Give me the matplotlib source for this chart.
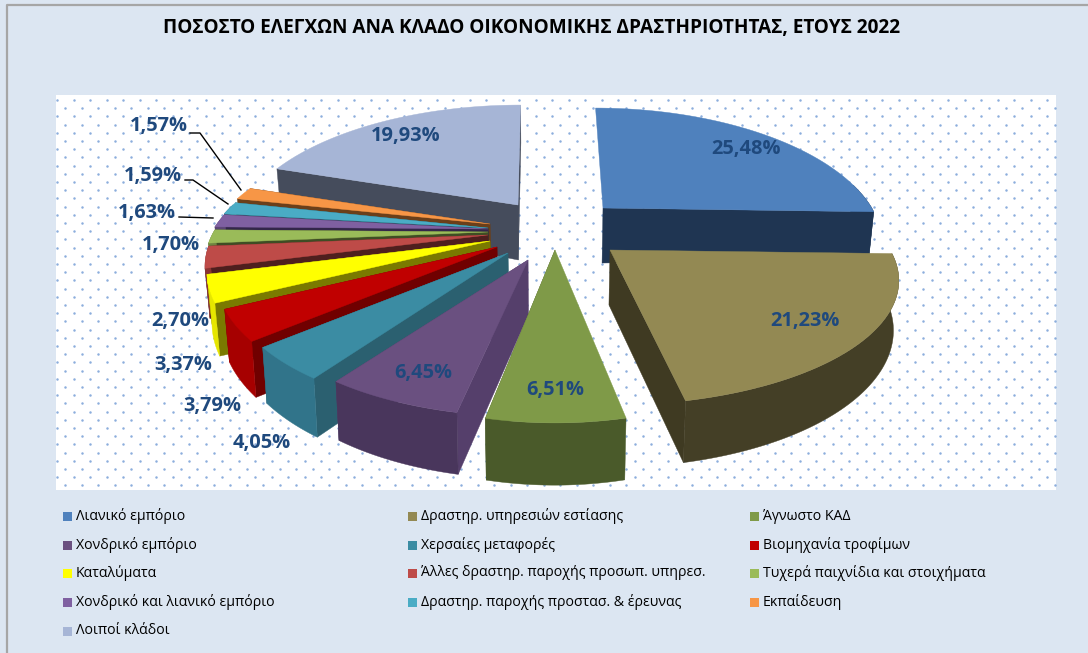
import numpy as np
import matplotlib
matplotlib.use("Agg")
import matplotlib.pyplot as plt
from matplotlib.patches import Polygon, Rectangle

title = "ΠΟΣΟΣΤΟ ΕΛΕΓΧΩΝ ΑΝΑ ΚΛΑΔΟ ΟΙΚΟΝΟΜΙΚΗΣ ΔΡΑΣΤΗΡΙΟΤΗΤΑΣ, ΕΤΟΥΣ 2022"
categories = ["Λιανικό εμπόριο", "Δραστηρ. υπηρεσιών εστίασης", "Άγνωστο ΚΑΔ",
              "Χονδρικό εμπόριο", "Χερσαίες μεταφορές", "Βιομηχανία τροφίμων",
              "Καταλύματα", "Άλλες δραστηρ. παροχής προσωπ. υπηρεσ.",
              "Τυχερά παιχνίδια και στοιχήματα", "Χονδρικό και λιανικό εμπόριο",
              "Δραστηρ. παροχής προστασ. & έρευνας", "Εκπαίδευση", "Λοιποί κλάδοι"]
values = [25.48, 21.23, 6.51, 6.45, 4.05, 3.79, 3.37, 2.70, 1.70, 1.63, 1.59, 1.57, 19.93]

top_colors = ["#4F81BD", "#938953", "#7F9A48", "#6A5080", "#3B8CA3", "#C00000", "#FFFF00",
              "#BE4B48", "#9ABB59", "#7F60A1", "#4AACC5", "#F79646", "#A6B5D6"]
front_colors = ["#1F3552", "#443F26", "#4A5A2A", "#49365C", "#31748A", "#A60000", "#E6E600",
                "#8A3533", "#6E8640", "#5B4573", "#35798C", "#B06A30", "#6E7A94"]
side_colors = ["#1F3552", "#3F3A22", "#4A5A2A", "#553F6B", "#2B6070", "#700000", "#7A7A00",
               "#4F1F1E", "#3F4D24", "#33264A", "#1F4F5C", "#6B3F1A", "#454C5C"]
# where each exploded slice's tip sits on the page (pixels) and its radius factors
tip_x = [603, 610, 555, 528, 508, 497, 490, 488, 488, 488, 488, 490, 518]
tip_y = [208, 250, 250, 260, 253, 247, 241, 235, 232, 229, 228, 224, 205]
radius_x = [0.96, 1.0, 0.94, 0.96, 0.97, 0.97, 0.98, 0.98, 0.98, 0.98, 0.98, 0.98, 0.98]
radius_y = [1.02, 0.96, 1.07, 0.97, 1.0, 1.0, 1.0, 1.0, 1.0, 1.0, 1.0, 1.0, 1.02]
label_x = [746, 805, 555, 423, 262, 212, 183, 180, 171, 147, 153, 159, 406]
label_y = [149, 321, 390, 373, 443, 406, 365, 321, 245, 213, 176, 126, 136]
label_colors = ["#1F497D"] * 13
draw_order = [12, 0, 11, 10, 9, 8, 7, 6, 5, 4, 3, 2, 1]

W, H = 1088, 653
fig = plt.figure(figsize=(W / 100, H / 100), dpi=100, facecolor="#DCE6F2")
ax = fig.add_axes([0, 0, 1, 1])
ax.set_xlim(0, W)
ax.set_ylim(H, 0)
ax.axis("off")

FONT = ["Open Sans", "DejaVu Sans"]

# frame
ax.plot([7, 7, W], [H, 5, 5], color="#A6A6A6", lw=1.6, zorder=1)

# dotted plot area
ax.add_patch(Rectangle((56, 95), 1000, 395, fc="white", ec="none", zorder=1))
row_y = np.arange(100, 490, 8.2)
for i, ry in enumerate(row_y):
    xs = np.arange(57.0 if i % 2 == 0 else 65.2, 1056, 16.5)
    ax.scatter(xs, np.full_like(xs, ry), s=3.2, color="#8CAEDD", lw=0, zorder=1.5)

# projection of the pie plane
A, B, K = 122.0, 280.0, 0.245
CX0 = 540.0
T, T_TIP, SHRINK = 47.0, 55.0, 0.985


def project(tx, ty, theta, rx, ry):
    u, v = np.sin(theta), np.cos(theta)
    d = 1 + K * v
    x = tx + rx * B * u / d + 0.6 * (tx - CX0) * (1 / (1 + K * np.clip(v, 0, 1)) - 1)
    y = ty - ry * A * v / d
    return x, y, T / d


def bottom(x, y, t):
    return CX0 + (x - CX0) * SHRINK, y + t


edges = np.radians(np.concatenate([[0], np.cumsum(values)]) * 3.6)
z = 2.0
for i in draw_order:
    tx, ty = tip_x[i], tip_y[i]
    th = np.linspace(edges[i], edges[i + 1], 80)
    ax_x, ax_y, ts = project(tx, ty, th, radius_x[i], radius_y[i])
    bx, by = bottom(ax_x, ax_y, ts)
    tbx, tby = bottom(tx, ty, T_TIP)
    # radial side walls; a start wall right of the viewer faces away
    for j in (0, -1):
        if j == 0 and tx > CX0:
            continue
        ax.add_patch(Polygon([(tx, ty), (ax_x[j], ax_y[j]), (bx[j], by[j]), (tbx, tby)],
                             fc=side_colors[i], ec=side_colors[i], lw=0.3, zorder=z))
    # outer wall: only the part of the rim that faces the viewer
    front = np.cos(th) < 0.2
    if front.any():
        ax.add_patch(Polygon(np.c_[np.r_[ax_x[front], bx[front][::-1]], np.r_[ax_y[front], by[front][::-1]]],
                             fc=front_colors[i], ec=front_colors[i], lw=0.3, zorder=z + 0.1))
    # top face
    ax.add_patch(Polygon(np.c_[np.r_[tx, ax_x], np.r_[ty, ax_y]],
                         fc=top_colors[i], ec=top_colors[i], lw=0.3, zorder=z + 0.2))
    z += 1

# leader lines
ax.plot([190, 200, 241], [133, 133, 190], color="black", lw=1, zorder=40)
ax.plot([185, 193, 228], [180, 180, 204], color="black", lw=1, zorder=40)
ax.plot([179, 213], [217, 218], color="black", lw=1, zorder=40)

# value labels
for i, v in enumerate(values):
    ax.text(label_x[i], label_y[i], f"{v:.2f}".replace(".", ",") + "%", color=label_colors[i],
            fontsize=14.4, fontweight="bold", family=FONT, ha="center", va="center", zorder=50)

# title
ax.text(532, 28, title, fontsize=13.7, fontweight="bold", family=FONT, color="black",
        ha="center", va="center", zorder=50)

# legend
legend_col_x = [63, 408, 750]
legend_row_y = [516, 545, 573, 602, 631]
for i, name in enumerate(categories):
    r, c = divmod(i, 3)
    lx, ly = legend_col_x[c], legend_row_y[r]
    ax.add_patch(Rectangle((lx, ly - 4.5), 9, 9, fc=top_colors[i], ec="none", zorder=50))
    ax.text(lx + 13, ly, name, fontsize=10.2, family=FONT, color="black", ha="left", va="center", zorder=50)

fig.savefig("out.png", dpi=100, facecolor=fig.get_facecolor())
